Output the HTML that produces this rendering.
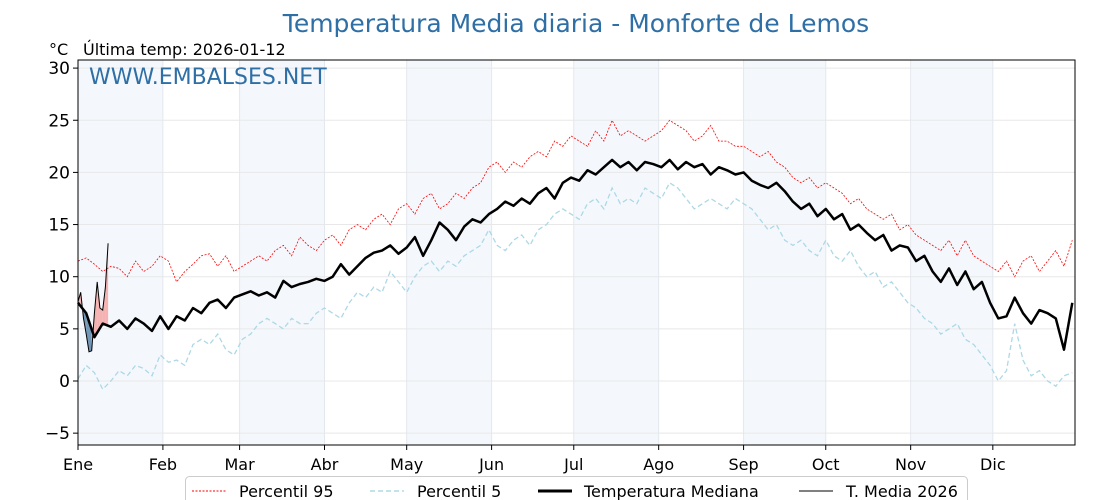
<!DOCTYPE html>
<html><head><meta charset="utf-8"><style>
body{margin:0;background:#fff;}
svg{display:block;font-family:"DejaVu Sans","Liberation Sans",sans-serif;}
</style></head><body>
<svg id="c" width="1120" height="500" viewBox="0 0 1120 500">
<text x="576" y="32" text-anchor="middle" font-size="25" fill="#2e6fa6">Temperatura Media diaria - Monforte de Lemos</text>
<text x="49" y="55" font-size="16" fill="#000">°C</text>
<text x="83" y="55" font-size="16" fill="#000">Última temp: 2026-01-12</text>
<g id="bands"></g><g id="grid"></g><g id="series"></g>
<text x="89" y="84" font-size="22" fill="#2e6fa6">WWW.EMBALSES.NET</text>
<rect x="78" y="60" width="997" height="385" fill="none" stroke="#000" stroke-width="1"/>
<g id="axes"></g>
<g>
<rect x="185.5" y="476.5" width="782" height="30" rx="4" fill="#fff" stroke="#ccc"/>
<line x1="192" y1="491" x2="226" y2="491" stroke="red" stroke-width="1" stroke-dasharray="2,1.5"/>
<text x="239" y="497" font-size="16">Percentil 95</text>
<line x1="370" y1="491" x2="404" y2="491" stroke="#add8e6" stroke-width="1.5" stroke-dasharray="5,3"/>
<text x="417" y="497" font-size="16">Percentil 5</text>
<line x1="538" y1="491" x2="572" y2="491" stroke="#000" stroke-width="3"/>
<text x="584" y="497" font-size="16">Temperatura Mediana</text>
<line x1="799" y1="491" x2="833" y2="491" stroke="#000" stroke-width="1"/>
<text x="846" y="497" font-size="16">T. Media 2026</text>
</g>
</svg>
<script>
const months=["Ene","Feb","Mar","Abr","May","Jun","Jul","Ago","Sep","Oct","Nov","Dic"];
const monthStart=[0,31,59,90,120,151,181,212,243,273,304,334];
const yTicks=[-5,0,5,10,15,20,25,30];
const step=3;
const median=[7.5,6.5,4.2,5.5,5.2,5.8,5.0,6.0,5.5,4.8,6.2,
5.0,6.2,5.8,7.0,6.5,7.5,7.8,7.0,8.0,
8.3,8.6,8.2,8.5,8.0,9.6,9.0,9.3,9.5,9.8,
9.6,10.0,11.2,10.2,11.0,11.8,12.3,12.5,13.0,12.2,
12.8,13.8,12.0,13.5,15.2,14.5,13.5,14.8,15.5,15.2,
16.0,16.5,17.2,16.8,17.5,17.0,18.0,18.5,17.5,19.0,
19.5,19.2,20.2,19.8,20.5,21.2,20.5,21.0,20.2,21.0,
20.8,20.5,21.2,20.3,21.0,20.5,20.8,19.8,20.5,20.2,19.8,
20.0,19.2,18.8,18.5,19.0,18.2,17.2,16.5,17.0,15.8,
16.5,15.5,16.0,14.5,15.0,14.2,13.5,14.0,12.5,13.0,
12.8,11.5,12.0,10.5,9.5,10.8,9.2,10.5,8.8,9.5,
7.5,6.0,6.2,8.0,6.5,5.5,6.8,6.5,6.0,3.0,7.5];
const p95=[11.5,11.8,11.2,10.5,11.0,10.8,10.0,11.5,10.5,11.0,12.0,
11.5,9.5,10.5,11.2,12.0,12.2,11.0,12.0,10.5,
11.0,11.5,12.0,11.5,12.5,13.0,12.0,13.8,13.0,12.5,
13.5,14.0,13.0,14.5,15.0,14.5,15.5,16.0,15.0,16.5,
17.0,16.0,17.5,18.0,16.5,17.0,18.0,17.5,18.5,19.0,
20.5,21.0,20.0,21.0,20.5,21.5,22.0,21.5,23.0,22.5,
23.5,23.0,22.5,24.0,23.0,25.0,23.5,24.0,23.5,23.0,
23.5,24.0,25.0,24.5,24.0,23.0,23.5,24.5,23.0,23.0,22.5,
22.5,22.0,21.5,22.0,21.0,20.5,19.5,19.0,19.5,18.5,
19.0,18.5,18.0,17.0,17.5,16.5,16.0,15.5,16.0,14.5,
15.0,14.0,13.5,13.0,12.5,13.5,12.0,13.5,12.0,11.5,
11.0,10.5,11.5,10.0,11.5,12.0,10.5,11.5,12.5,11.0,13.5];
const p5=[0.2,1.5,0.8,-0.8,0.0,1.0,0.5,1.5,1.2,0.5,2.5,
1.8,2.0,1.5,3.5,4.0,3.5,4.5,3.0,2.5,
4.0,4.5,5.5,6.0,5.5,5.0,6.0,5.5,5.5,6.5,
7.0,6.5,6.0,7.5,8.5,8.0,9.0,8.5,10.5,9.5,
8.5,10.0,11.0,11.5,10.5,11.5,11.0,12.0,12.5,13.0,
14.5,13.0,12.5,13.5,14.0,13.0,14.5,15.0,16.0,16.5,
16.0,15.5,17.0,17.5,16.5,18.5,17.0,17.5,17.0,18.5,
18.0,17.5,19.0,18.5,17.5,16.5,17.0,17.5,17.0,16.5,17.5,
17.0,16.5,15.5,14.5,15.0,13.5,13.0,13.5,12.5,12.0,
13.5,12.0,11.5,12.5,11.0,10.0,10.5,9.0,9.5,8.5,
7.5,7.0,6.0,5.5,4.5,5.0,5.5,4.0,3.5,2.5,
1.5,0.0,1.0,5.5,2.0,0.5,1.0,0.0,-0.5,0.5,0.8];
const t2026=[7.6,8.5,6.0,4.5,2.8,2.9,6.5,9.5,7.0,6.8,9.0,13.2];

const NS="http://www.w3.org/2000/svg";
const X0=78,X1=1075,Y0=60,Y1=445;
function xs(d){return X0+d*(X1-X0)/364;}
function ys(v){return 381-v*10.43;}
function mk(tag,attrs,parent){const e=document.createElementNS(NS,tag);for(const k in attrs)e.setAttribute(k,attrs[k]);document.getElementById(parent).appendChild(e);return e;}
for(let i=0;i<12;i+=2){
 const e=mk('rect',{x:xs(monthStart[i]),y:Y0,width:xs(monthStart[i+1])-xs(monthStart[i]),height:Y1-Y0,fill:'#f4f8fc'},'bands');
 
 
}
yTicks.forEach(v=>{
 const g=mk('line',{x1:X0,x2:X1,y1:ys(v),y2:ys(v),stroke:'#e8e8e8','stroke-width':1},'grid');
 
 
 const t=mk('line',{x1:X0-5,x2:X0,y1:ys(v),y2:ys(v),stroke:'#000'},'axes');
 
 
 const l=mk('text',{x:X0-8,y:ys(v)+6,'text-anchor':'end','font-size':17},'axes');
 l.textContent=v<0?'\u2212'+Math.abs(v):String(v);
 
 
});
months.forEach((m,i)=>{
 const x=xs(monthStart[i]);
 const g=mk('line',{x1:x,x2:x,y1:Y0,y2:Y1,stroke:'#e3e8ee'},'grid');
 
 
 const t=mk('line',{x1:x,x2:x,y1:Y1,y2:Y1+5,stroke:'#000'},'axes');
 
 
 const l=mk('text',{x:x,y:470,'text-anchor':'middle','font-size':16},'axes');
 l.textContent=m;
 
 
});
function pts(arr,st){return arr.map((v,i)=>xs(i*st).toFixed(1)+','+ys(v).toFixed(1)).join(' ');}
function medAt(d){const i=Math.floor(d/step),f=(d%step)/step;const a=median[i],b=median[Math.min(i+1,median.length-1)];return a+(b-a)*f;}
for(let d=0;d<t2026.length-1;d++){
 const a1=t2026[d],a2=t2026[d+1],m1=medAt(d),m2=medAt(d+1);
 const up=(a1+a2)/2>=(m1+m2)/2;
 const p=mk('polygon',{points:`${xs(d)},${ys(a1)} ${xs(d+1)},${ys(a2)} ${xs(d+1)},${ys(m2)} ${xs(d)},${ys(m1)}`,fill:up?'#f4a0a0':'#5b86ad','fill-opacity':up?0.8:0.85},'series');
 
 
}
const s1=mk('polyline',{points:pts(p95,step),fill:'none',stroke:'red','stroke-width':0.8,'stroke-dasharray':'2,1.5'},'series');


const s2=mk('polyline',{points:pts(p5,step),fill:'none',stroke:'#add8e6','stroke-width':1.3,'stroke-dasharray':'5,3'},'series');


const s3=mk('polyline',{points:pts(median,step),fill:'none',stroke:'#000','stroke-width':2.5,'stroke-linejoin':'round'},'series');


const s4=mk('polyline',{points:pts(t2026,1),fill:'none',stroke:'#000','stroke-width':1},'series');


</script>
</body></html>
